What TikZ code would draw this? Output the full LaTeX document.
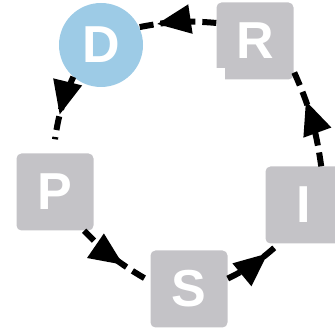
\documentclass[tikz,border=0pt]{standalone}
\usepackage{fontspec}
\setmainfont{Liberation Sans}
\usetikzlibrary{arrows.meta,decorations.markings}
\definecolor{boxgray}{RGB}{196,195,199}
\definecolor{dblue}{RGB}{157,203,230}
\tikzset{
  letter/.style={text=white,font=\fontsize{52}{52}\selectfont\bfseries,inner sep=0pt},
  sq/.style={letter,fill=boxgray,rounded corners=5pt,minimum width=77pt,minimum height=77pt},
  circ/.style={letter,fill=dblue,circle,minimum size=84pt},
  conn/.style={line width=6pt,dash pattern=on 14pt off 7pt,
    postaction={decorate},
    decoration={markings,mark=at position #1 with {\arrow{Triangle[length=34pt,width=28pt]}}}}
}
\begin{document}
\begin{tikzpicture}[x=1pt,y=1pt]
\useasboundingbox (0,0) rectangle (335,331);
\clip (0,0) rectangle (335,331);
\node[circ] (D) at (101,286) {D};
\node[sq] (R) at (255,290) {R};
\fill[white] (216,250) rectangle (225,263);
\node[sq] (P) at (55,139) {P};
\node[sq] (I) at (304,126) {I};
\node[sq] (S) at (189,42) {S};
\draw[conn=0.62] (D.229) to[bend right=8] ([yshift=14pt]P.north);
\draw[conn=0.67] (P.-53) to[bend right=8] ([shift={(-5pt,0pt)}]S.165);
\draw[conn=0.77] (S.15) to[bend right=8] (I.237);
\draw[conn=0.68] (I.66) to[bend right=8] (R.-38);
\draw[conn=0.77] (R.155) to[bend right=8] (D.25);
\end{tikzpicture}
\end{document}
